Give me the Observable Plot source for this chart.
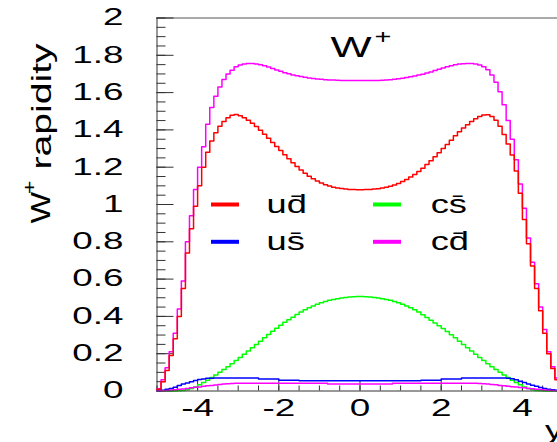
<!DOCTYPE html>
<html>
<head>
<meta charset="utf-8">
<script src="https://cdn.jsdelivr.net/npm/d3@7"></script>
<script src="https://cdn.jsdelivr.net/npm/@observablehq/plot@0.6"></script>
<style>
  html, body { margin: 0; padding: 0; background: #fff; overflow: hidden; }
</style>
</head>
<body>
<div id="chart"></div>
<script>
// ---- histogram binning: 100 bins of width 0.1 from -5 to 5 ----
const binStart = -5;
const binWidth = 0.1;

// u d-bar (red)
const ud = [
  0.01,0.05,0.11,0.19,0.28,0.40,0.55,0.74,0.87,0.99,
  1.10,1.20,1.28,1.34,1.385,1.42,1.445,1.465,1.478,1.482,
  1.476,1.465,1.452,1.436,1.418,1.398,1.377,1.355,1.333,1.311,
  1.289,1.267,1.245,1.224,1.204,1.185,1.168,1.152,1.138,1.126,
  1.115,1.106,1.099,1.093,1.089,1.086,1.083,1.081,1.080,1.079,
  1.079,1.080,1.081,1.083,1.085,1.088,1.092,1.098,1.105,1.113,
  1.123,1.134,1.147,1.161,1.177,1.195,1.214,1.234,1.256,1.278,
  1.300,1.322,1.345,1.368,1.390,1.410,1.428,1.445,1.460,1.472,
  1.480,1.481,1.472,1.452,1.420,1.375,1.325,1.265,1.180,1.060,
  0.92,0.79,0.67,0.55,0.43,0.31,0.20,0.12,0.06,0.015
];
// total (magenta, upper curve)
const total = [
  0.012,0.06,0.125,0.21,0.31,0.44,0.59,0.80,0.94,1.08,
  1.20,1.31,1.43,1.52,1.58,1.63,1.67,1.70,1.72,1.738,
  1.748,1.754,1.756,1.756,1.754,1.750,1.744,1.737,1.729,1.721,
  1.714,1.707,1.701,1.695,1.690,1.686,1.682,1.678,1.675,1.673,
  1.671,1.669,1.668,1.667,1.666,1.665,1.665,1.665,1.665,1.665,
  1.665,1.665,1.665,1.665,1.665,1.666,1.667,1.669,1.671,1.674,
  1.677,1.681,1.685,1.689,1.694,1.699,1.705,1.711,1.718,1.725,
  1.732,1.738,1.744,1.749,1.753,1.755,1.756,1.756,1.754,1.748,
  1.738,1.722,1.695,1.655,1.605,1.535,1.45,1.35,1.24,1.11,
  0.98,0.82,0.69,0.575,0.45,0.33,0.21,0.13,0.07,0.018
];
// c s-bar (green)
const cs = [
  0,0,0,0,0,0.001,0.003,0.007,0.013,0.022,
  0.033,0.045,0.058,0.072,0.086,0.100,0.115,0.130,0.146,0.163,
  0.180,0.197,0.214,0.232,0.250,0.267,0.285,0.303,0.320,0.337,
  0.353,0.368,0.382,0.396,0.410,0.423,0.435,0.446,0.456,0.465,
  0.473,0.480,0.486,0.491,0.495,0.499,0.502,0.504,0.506,0.507,
  0.507,0.506,0.504,0.502,0.499,0.495,0.491,0.486,0.480,0.473,
  0.465,0.456,0.446,0.435,0.423,0.409,0.394,0.379,0.364,0.350,
  0.335,0.319,0.302,0.285,0.267,0.250,0.232,0.214,0.197,0.180,
  0.163,0.146,0.130,0.115,0.100,0.086,0.072,0.058,0.045,0.033,
  0.022,0.013,0.007,0.003,0.001,0,0,0,0,0
];
// u s-bar (blue)
const us = [
  0.001,0.004,0.009,0.014,0.02,0.03,0.037,0.043,0.049,0.056,
  0.061,0.065,0.068,0.069,0.07,0.07,0.07,0.07,0.07,0.07,
  0.07,0.07,0.07,0.07,0.07,0.064,0.064,0.064,0.064,0.064,
  0.058,0.058,0.058,0.058,0.058,0.055,0.055,0.055,0.055,0.055,
  0.055,0.055,0.055,0.055,0.055,0.055,0.055,0.055,0.055,0.055,
  0.055,0.055,0.055,0.055,0.055,0.055,0.055,0.055,0.055,0.055,
  0.055,0.055,0.055,0.055,0.055,0.058,0.058,0.058,0.058,0.058,
  0.064,0.064,0.064,0.064,0.064,0.07,0.07,0.07,0.07,0.07,
  0.07,0.07,0.07,0.07,0.07,0.07,0.068,0.066,0.06,0.052,
  0.045,0.038,0.031,0.025,0.019,0.014,0.01,0.007,0.004,0.001
];
// c d-bar (magenta, lower curve)
const cd = [
  0.001,0.002,0.003,0.005,0.007,0.009,0.011,0.014,0.017,0.02,
  0.022,0.025,0.028,0.03,0.032,0.035,0.037,0.039,0.04,0.041,
  0.042,0.042,0.042,0.042,0.042,0.042,0.042,0.042,0.042,0.042,
  0.042,0.042,0.042,0.042,0.042,0.042,0.042,0.042,0.042,0.042,
  0.042,0.042,0.037,0.037,0.037,0.037,0.037,0.037,0.037,0.037,
  0.037,0.037,0.037,0.037,0.037,0.037,0.037,0.037,0.042,0.042,
  0.042,0.042,0.042,0.042,0.042,0.042,0.042,0.042,0.042,0.042,
  0.042,0.042,0.042,0.042,0.042,0.042,0.042,0.042,0.041,0.04,
  0.039,0.037,0.035,0.033,0.03,0.028,0.026,0.023,0.021,0.019,
  0.017,0.014,0.012,0.01,0.008,0.006,0.004,0.003,0.002,0.001
];

const yTicks = [0, 0.2, 0.4, 0.6, 0.8, 1, 1.2, 1.4, 1.6, 1.8, 2];
const xTicks = [-4, -2, 0, 2, 4];
const legendNames = ["ud\u0304", "us\u0304", "cs\u0304", "cd\u0304"];
const legendColors = ["#ff0000", "#0000ff", "#00ff00", "#ff00ff"];

// ---- build step-histogram point lists ----
function steps(values, name) {
  const pts = values.map((v, i) => ({x: binStart + i * binWidth, y: v, s: name}));
  pts.push({x: binStart + values.length * binWidth, y: values[values.length - 1], s: name});
  return pts;
}
const series = [
  {name: "total", values: total, color: "#ff00ff"},
  {name: "ud", values: ud, color: "#ff0000"},
  {name: "cs", values: cs, color: "#00ff00"},
  {name: "us", values: us, color: "#0000ff"},
  {name: "cd", values: cd, color: "#ff00ff"}
];

// ---- layout ----
const W = 557, H = 442;
const mLeft = 156.5, mRight = -5.5, mTop = 17.5, mBottom = 51.5;
const plotW = W - mLeft - mRight, plotH = H - mTop - mBottom;
const yMinor = d3.range(0, 2.0001, 0.05);
const xMinor = d3.range(-5, 5.0001, 0.5);

// legend layout (in data units, 2 columns x 2 rows)
const legendCol = [[-3.67, -2.98, -2.3], [0.32, 1.01, 1.74]];
const legendRow = [1.0, 0.8];
const legendItems = legendNames.map((n, i) => {
  const c = legendCol[Math.floor(i / 2)], r = legendRow[i % 2];
  return {name: n, color: legendColors[i], x1: c[0], x2: c[1], xt: c[2], y: r};
});

const marks = [];
// frame / axis lines
marks.push(Plot.ruleY([2], {stroke: "#555", strokeWidth: 1}));
marks.push(Plot.ruleX([-5], {stroke: "#333", strokeWidth: 1}));
// ticks drawn inside the frame
marks.push(Plot.tickY(yTicks, {y: d => d, stroke: "#333", insetRight: plotW - 17}));
marks.push(Plot.tickY(yMinor, {y: d => d, stroke: "#333", insetRight: plotW - 9}));
marks.push(Plot.tickX(xTicks, {x: d => d, stroke: "#333", insetTop: plotH - 10}));
marks.push(Plot.tickX(xMinor, {x: d => d, stroke: "#333", insetTop: plotH - 5}));
// histograms
for (const s of series) {
  marks.push(Plot.line(steps(s.values, s.name), {x: "x", y: "y", curve: "step-after", stroke: s.color, strokeWidth: 1.5}));
}
marks.push(Plot.ruleY([0], {stroke: "#333", strokeWidth: 1}));
// axes
marks.push(Plot.axisY(yTicks, {tickSize: 0, tickPadding: 33.5, fontSize: 23, tickFormat: d => String(d), label: null, fill: "#000"}));
marks.push(Plot.axisX(xTicks, {tickSize: 0, tickPadding: 9, fontSize: 23, tickFormat: d => String(d), label: null, fill: "#000"}));
// legend
marks.push(Plot.link(legendItems, {x1: "x1", x2: "x2", y1: "y", y2: "y", stroke: "color", strokeWidth: 4}));
marks.push(Plot.text(legendItems, {x: "xt", y: "y", text: "name", textAnchor: "start", lineAnchor: "middle", fontSize: 25, fill: "#000"}));
// title W+
marks.push(Plot.text(["W"], {frameAnchor: "top", dx: -29.5, dy: 17.5, textAnchor: "start", lineAnchor: "top", fontSize: 30, fill: "#000"}));
marks.push(Plot.text(["+"], {frameAnchor: "top", dx: 23, dy: 20, textAnchor: "middle", lineAnchor: "middle", fontSize: 20, fill: "#000"}));
// y-axis title "W+ rapidity"
marks.push(Plot.text(["W"], {frameAnchor: "left", dx: -115.5, dy: 19, rotate: -90, textAnchor: "start", lineAnchor: "middle", fontSize: 28, fill: "#000"}));
marks.push(Plot.text(["+"], {frameAnchor: "left", dx: -126.5, dy: -17, rotate: -90, textAnchor: "middle", lineAnchor: "middle", fontSize: 18, fill: "#000"}));
marks.push(Plot.text(["rapidity"], {frameAnchor: "left", dx: -115, dy: -35, rotate: -90, textAnchor: "start", lineAnchor: "middle", fontSize: 27, fill: "#000"}));
// x-axis title "y"
marks.push(Plot.text(["y"], {frameAnchor: "bottom-right", dx: 0, dy: 39.5, textAnchor: "end", lineAnchor: "middle", fontSize: 25, fill: "#000"}));

const chart = Plot.plot({
  width: W, height: H,
  marginLeft: mLeft, marginRight: mRight, marginTop: mTop, marginBottom: mBottom,
  x: {domain: [-5, 5]},
  y: {domain: [0, 2]},
  style: {fontFamily: "'Liberation Sans', Arial, Helvetica, sans-serif", background: "#fff", color: "#000"},
  marks
});
document.getElementById("chart").append(chart);

// text in the reference is rendered wide; stretch glyphs along the text direction
const stretchBySize = {"23": 1.6, "25": 1.45, "27": 1.45, "28": 1.2, "30": 1.45, "20": 1.45, "18": 1.3};
chart.querySelectorAll("text").forEach(t => {
  const g = t.closest("[font-size]");
  const fs = g ? String(parseFloat(g.getAttribute("font-size"))) : "";
  const f = stretchBySize[fs] || 1.45;
  const L = t.getComputedTextLength();
  if (L > 0) {
    t.setAttribute("textLength", (L * f).toFixed(1));
    t.setAttribute("lengthAdjust", "spacingAndGlyphs");
  }
});
</script>
</body>
</html>
